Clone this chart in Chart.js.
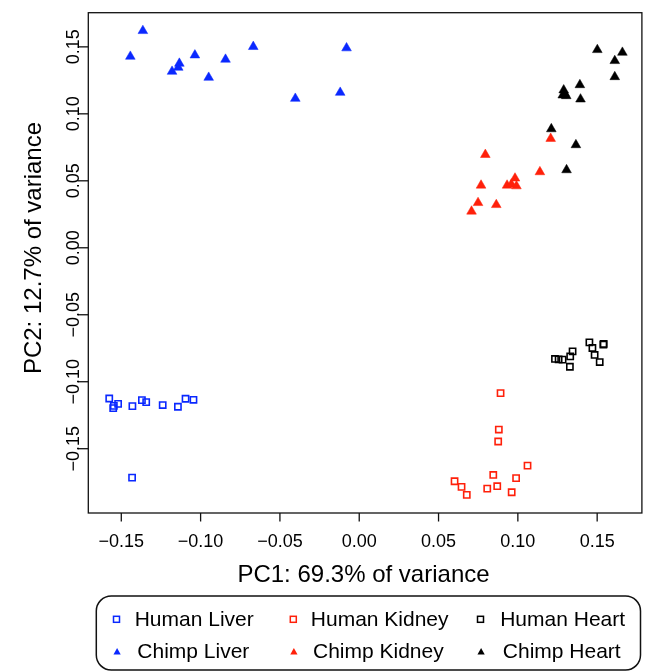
<!DOCTYPE html>
<html><head><meta charset="utf-8">
<script src="https://cdn.jsdelivr.net/npm/chart.js@4.4.1/dist/chart.umd.min.js"></script>
<style>html,body{margin:0;padding:0;background:#fff}#wrap{width:648px;height:672px;position:relative}</style>
</head><body><div id="wrap"><canvas id="c"></canvas></div>
<script>
// ---- data (PC1, PC2) ----
const humanLiverX = [-0.1576,-0.1551,-0.1547,-0.1520,-0.1430,-0.1370,-0.1343,-0.1239,-0.1143,-0.1095,-0.1045,-0.1432];
const humanLiverY = [-0.1125,-0.1197,-0.1180,-0.1165,-0.1182,-0.1137,-0.1152,-0.1174,-0.1187,-0.1127,-0.1135,-0.1716];
const humanKidneyX = [0.0891,0.0880,0.0876,0.1061,0.0845,0.0989,0.0601,0.0645,0.0678,0.0807,0.0870,0.0961];
const humanKidneyY = [-0.1085,-0.1357,-0.1446,-0.1626,-0.1696,-0.1720,-0.1743,-0.1785,-0.1845,-0.1798,-0.1780,-0.1825];
const humanHeartX = [0.1234,0.1257,0.1282,0.1330,0.1345,0.1328,0.1451,0.1470,0.1484,0.1516,0.1541,0.1539];
const humanHeartY = [-0.0830,-0.0833,-0.0835,-0.0811,-0.0773,-0.0888,-0.0706,-0.0748,-0.0800,-0.0853,-0.0718,-0.0723];
const chimpLiverX = [-0.1364,-0.1443,-0.1134,-0.1141,-0.1180,-0.1036,-0.0949,-0.0843,-0.0668,-0.0403,-0.0120,-0.0080];
const chimpLiverY = [0.1620,0.1428,0.1376,0.1346,0.1316,0.1438,0.1271,0.1406,0.1501,0.1114,0.1159,0.1491];
const chimpKidneyX = [0.1207,0.0795,0.1139,0.0982,0.0932,0.0959,0.0991,0.0768,0.0749,0.0864,0.0708];
const chimpKidneyY = [0.0815,0.0695,0.0566,0.0519,0.0466,0.0474,0.0461,0.0466,0.0336,0.0321,0.0272];
const chimpHeartX = [0.1501,0.1659,0.1611,0.1611,0.1391,0.1289,0.1295,0.1283,0.1305,0.1395,0.1211,0.1366,0.1307];
const chimpHeartY = [0.1478,0.1458,0.1396,0.1276,0.1216,0.1177,0.1151,0.1139,0.1134,0.1109,0.0887,0.0768,0.0581];

const seriesNames = ['Human Liver','Human Kidney','Human Heart','Chimp Liver','Chimp Kidney','Chimp Heart'];
const xTicks = [-0.15,-0.10,-0.05,0.00,0.05,0.10,0.15];
const yTicks = [-0.15,-0.10,-0.05,0.00,0.05,0.10,0.15];
const xTitle = 'PC1: 69.3% of variance';
const yTitle = 'PC2: 12.7% of variance';

const BLUE = '#0a28ff', RED = '#ff200a', BLACK = '#000000';
const FONT = '"Liberation Sans", Arial, Helvetica, sans-serif';

function pts(xs, ys){ return xs.map((x,i)=>({x:x,y:ys[i]})); }
function sq(label, xs, ys, col){
  return {label, data: pts(xs,ys), pointStyle:'rect', pointRadius:4.4, pointHoverRadius:4.4,
    borderColor:col, backgroundColor:'rgba(255,255,255,0)', pointBorderWidth:1.6, borderWidth:1.6, showLine:false};
}
function tri(label, xs, ys, col){
  return {label, data: pts(xs,ys), pointStyle:'triangle', pointRadius:5.6, pointHoverRadius:5.6,
    borderColor:col, backgroundColor:col, pointBorderWidth:0.5, borderWidth:0.5, showLine:false};
}
const datasets = [
  sq(seriesNames[0], humanLiverX, humanLiverY, BLUE),
  sq(seriesNames[1], humanKidneyX, humanKidneyY, RED),
  sq(seriesNames[2], humanHeartX, humanHeartY, BLACK),
  tri(seriesNames[3], chimpLiverX, chimpLiverY, BLUE),
  tri(seriesNames[4], chimpKidneyX, chimpKidneyY, RED),
  tri(seriesNames[5], chimpHeartX, chimpHeartY, BLACK)
];
const seriesColors = [BLUE, RED, BLACK, BLUE, RED, BLACK];

function fmt(v){ const s = Math.abs(v).toFixed(2); return v < -1e-9 ? '\u2212' + s : s; }

const axesPlugin = {
  id:'rAxes',
  afterDraw(chart){
    const ctx = chart.ctx, a = chart.chartArea, xs = chart.scales.x, ys = chart.scales.y;
    ctx.save();
    ctx.strokeStyle = '#111'; ctx.lineWidth = 1.3;
    ctx.strokeRect(a.left, a.top, a.right - a.left, a.bottom - a.top);
    // x ticks
    ctx.fillStyle = '#000';
    ctx.font = '18px ' + FONT; ctx.textAlign = 'center'; ctx.textBaseline = 'alphabetic';
    xTicks.forEach(v => {
      const px = xs.getPixelForValue(v);
      ctx.beginPath(); ctx.moveTo(px, a.bottom); ctx.lineTo(px, a.bottom + 8.5); ctx.stroke();
      ctx.fillText(fmt(v), px, 546.7);
    });
    // y ticks
    yTicks.forEach(v => {
      const py = ys.getPixelForValue(v);
      ctx.beginPath(); ctx.moveTo(a.left, py); ctx.lineTo(a.left - 10.5, py); ctx.stroke();
      ctx.save(); ctx.translate(78.5, py); ctx.rotate(-Math.PI/2);
      ctx.fillText(fmt(v), 0, 0); ctx.restore();
    });
    // titles
    ctx.font = '24px ' + FONT;
    ctx.fillText(xTitle, 363.5, 582.3);
    ctx.save(); ctx.translate(40.8, 248); ctx.rotate(-Math.PI/2); ctx.fillText(yTitle, 0, 0); ctx.restore();
    // legend box
    const L = 96.3, T = 596, R = 640.5, B = 670, rad = 15;
    ctx.lineWidth = 1.5; ctx.strokeStyle = '#111';
    ctx.beginPath();
    ctx.moveTo(L + rad, T); ctx.lineTo(R - rad, T); ctx.arcTo(R, T, R, T + rad, rad);
    ctx.lineTo(R, B - rad); ctx.arcTo(R, B, R - rad, B, rad);
    ctx.lineTo(L + rad, B); ctx.arcTo(L, B, L, B - rad, rad);
    ctx.lineTo(L, T + rad); ctx.arcTo(L, T, L + rad, T, rad); ctx.closePath(); ctx.stroke();
    // legend entries
    const mx = [116.5, 293.3, 480.5];
    const tx1 = [134.7, 310.8, 500.2];
    const tx2 = [137.3, 313.0, 502.8];
    ctx.font = '21px ' + FONT; ctx.textAlign = 'left';
    for (let c = 0; c < 3; c++) {
      // squares row
      ctx.strokeStyle = seriesColors[c]; ctx.lineWidth = 1.5;
      ctx.strokeRect(mx[c] - 3, 619.3 - 3, 6, 6);
      ctx.fillStyle = '#000'; ctx.fillText(seriesNames[c], tx1[c], 626);
      // triangles row
      const cx = mx[c] + 0.6, cy = 652.3, r = 4.2;
      ctx.fillStyle = seriesColors[3 + c];
      ctx.beginPath();
      ctx.moveTo(cx, cy - r); ctx.lineTo(cx + r*0.866, cy + r/2); ctx.lineTo(cx - r*0.866, cy + r/2); ctx.closePath(); ctx.fill();
      ctx.fillStyle = '#000'; ctx.fillText(seriesNames[3 + c], tx2[c], 658.3);
    }
    ctx.restore();
  }
};

new Chart(document.getElementById('c'), {
  type:'scatter',
  data:{ datasets },
  options:{
    responsive:true, maintainAspectRatio:false, animation:false,
    layout:{ padding:{ left:88.3, top:12.7, right:1.3, bottom:159 } },
    plugins:{ legend:{display:false}, tooltip:{enabled:false} },
    scales:{
      x:{ type:'linear', min:-0.1708, max:0.1782, display:false },
      y:{ type:'linear', min:-0.1980, max:0.1755, display:false }
    }
  },
  plugins:[axesPlugin]
});
</script>
</body></html>
